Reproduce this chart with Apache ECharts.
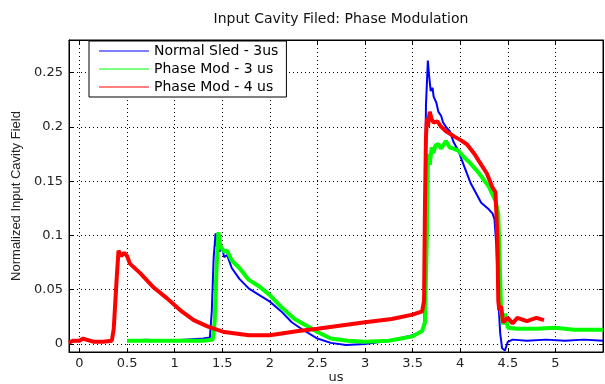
<!DOCTYPE html>
<html>
<head>
<meta charset="utf-8">
<script src="https://cdn.jsdelivr.net/npm/echarts@6/dist/echarts.min.js"></script>
<style>
  html, body { margin: 0; padding: 0; background: #fff; }
  #chart { width: 605px; height: 384px; }
</style>
</head>
<body>
<div id="chart"></div>
<script>
// values (time in us, normalized field)
var seriesNames = ['Normal Sled - 3us', 'Phase Mod - 3 us', 'Phase Mod - 4 us']
var xTicks = [0, 0.5, 1, 1.5, 2, 2.5, 3, 3.5, 4, 4.5, 5]
var yTicks = [0, 0.05, 0.1, 0.15, 0.2, 0.25]

var blueT = [0.5, 0.7, 0.9, 1.1, 1.3, 1.37, 1.39, 1.41, 1.43, 1.44, 1.45, 1.47, 1.5, 1.52, 1.55, 1.6, 1.68, 1.78, 1.89, 2.0,
  2.12, 2.23, 2.33, 2.5, 2.64, 2.8, 3.0, 3.25, 3.5, 3.6, 3.62, 3.63, 3.64, 3.66, 3.67, 3.69, 3.71, 3.72, 3.75, 3.77,
  3.8, 3.82, 3.85, 3.89, 3.93, 3.98, 4.04, 4.11, 4.22, 4.3, 4.34, 4.36, 4.38, 4.4, 4.42, 4.44, 4.47, 4.5, 4.55, 4.7,
  4.9, 5.1, 5.3, 5.5]
var blueV = [0.003, 0.004, 0.003, 0.004, 0.005, 0.006, 0.03, 0.08, 0.102, 0.09, 0.097, 0.085, 0.088, 0.08, 0.082, 0.07, 0.06, 0.051, 0.045, 0.039,
  0.030, 0.020, 0.014, 0.005, 0.001, -0.001, 0.0, 0.003, 0.008, 0.012, 0.02, 0.13, 0.22, 0.261, 0.25, 0.233, 0.236, 0.228, 0.222, 0.214,
  0.21, 0.204, 0.2, 0.196, 0.186, 0.178, 0.164, 0.148, 0.13, 0.124, 0.12, 0.115, 0.09, 0.04, 0.01, -0.004, -0.006, 0.002, 0.004, 0.003,
  0.004, 0.003, 0.004, 0.003]

var greenT = [0.5, 0.7, 0.9, 1.1, 1.3, 1.4, 1.42, 1.44, 1.46, 1.48, 1.5, 1.52, 1.55, 1.6, 1.68, 1.78, 1.89, 2.0, 2.12, 2.26,
  2.4, 2.5, 2.64, 2.82, 3.0, 3.25, 3.5, 3.6, 3.63, 3.65, 3.66, 3.67, 3.68, 3.7, 3.72, 3.74, 3.77, 3.8, 3.85, 3.89,
  3.93, 3.98, 4.04, 4.1, 4.2, 4.3, 4.37, 4.4, 4.42, 4.43, 4.45, 4.47, 4.5, 4.6, 4.8, 5.0, 5.2, 5.5]
var greenV = [0.003, 0.003, 0.003, 0.003, 0.003, 0.004, 0.02, 0.07, 0.103, 0.09, 0.091, 0.085, 0.086, 0.077, 0.07, 0.059, 0.053, 0.045, 0.034, 0.023,
  0.016, 0.011, 0.005, 0.003, 0.002, 0.003, 0.007, 0.012, 0.02, 0.1, 0.165, 0.175, 0.165, 0.181, 0.176, 0.183, 0.184, 0.18, 0.187, 0.181,
  0.18, 0.178, 0.172, 0.167, 0.157, 0.145, 0.132, 0.12, 0.06, 0.03, 0.018, 0.028, 0.015, 0.014, 0.014, 0.015, 0.013, 0.013]

var redT = [-0.11, -0.07, 0.0, 0.04, 0.07, 0.15, 0.25, 0.34, 0.36, 0.39, 0.41, 0.44, 0.47, 0.5, 0.53, 0.64, 0.78, 0.92, 1.06, 1.2,
  1.35, 1.52, 1.78, 2.0, 2.3, 2.5, 2.75, 3.0, 3.28, 3.5, 3.6, 3.62, 3.63, 3.64, 3.65, 3.66, 3.68, 3.7, 3.72, 3.76,
  3.8, 3.85, 3.94, 4.0, 4.07, 4.15, 4.2, 4.28, 4.34, 4.37, 4.39, 4.4, 4.41, 4.43, 4.45, 4.5, 4.55, 4.6, 4.7, 4.8, 4.88]
var redV = [0.001, 0.003, 0.003, 0.005, 0.004, 0.002, 0.002, 0.003, 0.014, 0.059, 0.086, 0.081, 0.084, 0.081, 0.074, 0.065, 0.052, 0.042, 0.031, 0.022,
  0.016, 0.011, 0.008, 0.008, 0.012, 0.014, 0.017, 0.020, 0.023, 0.027, 0.030, 0.04, 0.13, 0.19, 0.208, 0.2, 0.214, 0.207, 0.204, 0.205,
  0.2, 0.196, 0.191, 0.188, 0.184, 0.175, 0.168, 0.157, 0.144, 0.14, 0.1, 0.04, 0.031, 0.035, 0.02, 0.024, 0.019, 0.024, 0.021, 0.024, 0.022]

function pairs (ts, vs) {
  return ts.map(function (t, i) { return [t, vs[i]] })
}

var myChart = echarts.init(document.getElementById('chart'), null, { renderer: 'canvas' })
var wide = 'DejaVu Sans, sans-serif'
var narrow = 'Liberation Sans, Arial, sans-serif'
var gridLine = { show: true, lineStyle: { color: '#000', type: [1, 3], width: 1 } }
var frameAxis = { show: true, onZero: false, lineStyle: { color: '#000' } }

var option = {
  backgroundColor: '#fff',
  animation: false,
  textStyle: { fontFamily: wide },
  title: {
    text: 'Input Cavity Filed: Phase Modulation',
    left: 336,
    top: 7,
    textAlign: 'center',
    textStyle: { fontSize: 14, fontWeight: 'normal', color: '#111', fontFamily: wide }
  },
  legend: {
    orient: 'vertical',
    left: 89,
    top: 41,
    padding: [3, 8, 3, 10],
    itemGap: 4,
    itemWidth: 50,
    itemHeight: 14,
    icon: 'path://M0,0 L50,0 L50,1 L0,1 Z',
    backgroundColor: '#fff',
    borderColor: '#000',
    borderWidth: 1,
    borderRadius: 0,
    textStyle: { fontSize: 14, color: '#000', fontFamily: wide },
    data: seriesNames
  },
  grid: {
    left: 69,
    right: 2,
    top: 40,
    bottom: 32,
    containLabel: false,
    outerBoundsMode: 'none',
    show: true,
    borderColor: '#000',
    borderWidth: 1
  },
  xAxis: [
    {
      type: 'value',
      min: -0.11,
      max: 5.5,
      name: 'us',
      nameLocation: 'middle',
      nameGap: 19,
      nameMoveOverlap: false,
      nameTextStyle: { fontSize: 13, color: '#222', fontFamily: wide },
      axisLine: frameAxis,
      axisTick: { show: true, inside: true, length: 4, customValues: xTicks, lineStyle: { color: '#000' } },
      axisLabel: { customValues: xTicks, fontSize: 13, color: '#222', margin: 5, fontFamily: wide },
      splitLine: gridLine
    },
    {
      type: 'value',
      position: 'top',
      min: -0.11,
      max: 5.5,
      axisLine: frameAxis,
      axisTick: { show: true, inside: true, length: 4, customValues: xTicks, lineStyle: { color: '#000' } },
      axisLabel: { show: false },
      splitLine: { show: false }
    }
  ],
  yAxis: [
    {
      type: 'value',
      min: -0.0074,
      max: 0.28,
      name: 'Normalized Input Cavity Field',
      nameLocation: 'middle',
      nameGap: 46,
      nameMoveOverlap: false,
      nameTextStyle: { fontSize: 13, color: '#222', fontFamily: narrow },
      axisLine: frameAxis,
      axisTick: { show: true, inside: true, length: 4, customValues: yTicks, lineStyle: { color: '#000' } },
      axisLabel: { customValues: yTicks, fontSize: 13, color: '#222', margin: 6, fontFamily: wide },
      splitLine: gridLine
    },
    {
      type: 'value',
      position: 'right',
      min: -0.0074,
      max: 0.28,
      axisLine: frameAxis,
      axisTick: { show: true, inside: true, length: 4, customValues: yTicks, lineStyle: { color: '#000' } },
      axisLabel: { show: false },
      splitLine: { show: false }
    }
  ],
  series: [
    {
      name: seriesNames[0],
      type: 'line',
      data: pairs(blueT, blueV),
      symbol: 'none',
      color: '#0000ff',
      lineStyle: { color: '#0000ff', width: 2 },
      z: 2
    },
    {
      name: seriesNames[1],
      type: 'line',
      data: pairs(greenT, greenV),
      symbol: 'none',
      color: '#00ff00',
      lineStyle: { color: '#00ff00', width: 4 },
      z: 3
    },
    {
      name: seriesNames[2],
      type: 'line',
      data: pairs(redT, redV),
      symbol: 'none',
      color: '#ff0000',
      lineStyle: { color: '#ff0000', width: 4 },
      z: 4
    }
  ]
}
myChart.setOption(option)
</script>
</body>
</html>
